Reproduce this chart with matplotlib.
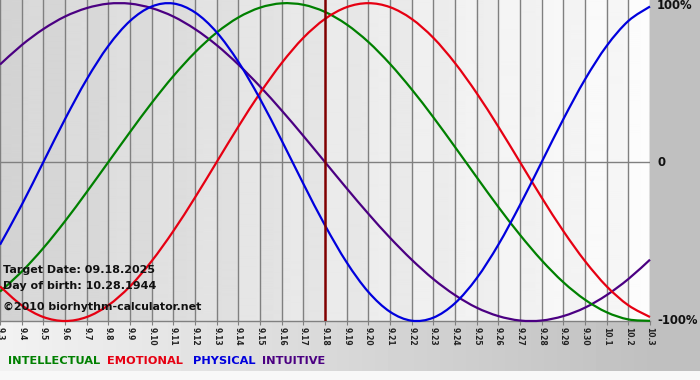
import numpy as np
import matplotlib
matplotlib.use("Agg")
import matplotlib.pyplot as plt
from matplotlib.path import Path
from matplotlib.patches import PathPatch

# ---- data ----
day_labels = ["9.3", "9.4", "9.5", "9.6", "9.7", "9.8", "9.9", "9.10", "9.11", "9.12",
              "9.13", "9.14", "9.15", "9.16", "9.17", "9.18", "9.19", "9.20", "9.21", "9.22",
              "9.23", "9.24", "9.25", "9.26", "9.27", "9.28", "9.29", "9.30", "10.1", "10.2", "10.3"]
physical = [-0.520, -0.270, 0.000, 0.270, 0.520, 0.731, 0.888, 0.979, 0.998, 0.942,
            0.817, 0.631, 0.398, 0.136, -0.136, -0.398, -0.631, -0.817, -0.942, -0.998,
            -0.979, -0.888, -0.731, -0.520, -0.270, 0.000, 0.270, 0.520, 0.731, 0.888, 0.979]
emotional = [-0.782, -0.901, -0.975, -1.000, -0.975, -0.901, -0.782, -0.623, -0.434, -0.223,
             0.000, 0.223, 0.434, 0.623, 0.782, 0.901, 0.975, 1.000, 0.975, 0.901,
             0.782, 0.623, 0.434, 0.223, 0.000, -0.223, -0.434, -0.623, -0.782, -0.901, -0.975]
intellectual = [-0.815, -0.690, -0.541, -0.372, -0.189, 0.000, 0.189, 0.372, 0.541, 0.690,
                0.815, 0.910, 0.972, 0.999, 0.990, 0.945, 0.866, 0.756, 0.618, 0.458,
                0.282, 0.095, -0.095, -0.282, -0.458, -0.618, -0.756, -0.866, -0.945, -0.990, -0.999]
intuitive = [0.614, 0.736, 0.837, 0.916, 0.969, 0.997, 0.997, 0.969, 0.916, 0.837,
             0.736, 0.614, 0.476, 0.325, 0.165, 0.000, -0.165, -0.325, -0.476, -0.614,
             -0.736, -0.837, -0.916, -0.969, -0.997, -0.997, -0.969, -0.916, -0.837, -0.736, -0.614]
target_index = 15  # 9.18
y_ticks = [1.0, 0.0, -1.0]
y_tick_labels = ["100%", "0", "-100%"]
legend_names = ["INTELLECTUAL", "EMOTIONAL", "PHYSICAL", "INTUITIVE"]
info_lines = ["Target Date: 09.18.2025", "Day of birth: 10.28.1944"]
credit = "\u00a92010 biorhythm-calculator.net"

# ---- styles ----
C_INT = "#008000"
C_EMO = "#e60012"
C_PHY = "#0000dd"
C_ITU = "#4b0082"
GRID = "#808080"


def smooth_path(xv, yv):
    """Smooth Bezier path through the given points (Catmull-Rom style)."""
    P = np.column_stack([xv, yv]).astype(float)
    Pe = np.vstack([P[0], P, P[-1]])
    verts = [P[0]]
    codes = [Path.MOVETO]
    for i in range(len(P) - 1):
        p0, p1, p2, p3 = Pe[i], Pe[i + 1], Pe[i + 2], Pe[i + 3]
        c1 = p1 + (p2 - p0) / 6.0
        c2 = p2 - (p3 - p1) / 6.0
        verts += [c1, c2, p2]
        codes += [Path.CURVE4] * 3
    return Path(verts, codes)


W, H = 700, 380
fig = plt.figure(figsize=(W / 100, H / 100), dpi=100)

# outer background
bg = fig.add_axes([0, 0, 1, 1])
bg.set_axis_off()
xs = np.arange(W)
row = np.where(xs < 650, 242 - (242 - 192) * xs / 650.0, 192)
img = np.tile(row, (H, 1))
img[371:, :] = 248
bg.imshow(img, cmap="gray", vmin=0, vmax=255, aspect="auto",
          extent=(0, W, H, 0), interpolation="nearest")
bg.set_xlim(0, W)
bg.set_ylim(H, 0)

plot_h = 321
ax = fig.add_axes([0, (H - plot_h) / H, 650 / W, plot_h / H])
n = len(day_labels)
x = np.arange(n)
ax.set_xlim(0, n - 1)
ax.set_ylim(-1.0, 1.02)

# inner gradient background with subtle day stripes
px = np.linspace(0, n - 1, 650)
grad = 213 + (250 - 213) * px / (n - 1)
stripe = np.where((np.floor(px).astype(int) % 2) == 0, -2.5, 2.5)
grad = np.clip(grad + stripe, 0, 255)
ax.imshow(np.tile(grad, (10, 1)), cmap="gray", vmin=0, vmax=255, aspect="auto",
          extent=(0, n - 1, -1.0, 1.02), zorder=0, interpolation="bilinear")

for xi in x:
    if xi != target_index:
        ax.axvline(xi, color=GRID, lw=1, zorder=1)
ax.axhline(0, color=GRID, lw=1, zorder=1)

lw = 1.6
for series, c in [(intuitive, C_ITU), (intellectual, C_INT), (emotional, C_EMO), (physical, C_PHY)]:
    ax.add_patch(PathPatch(smooth_path(x, series), facecolor="none", edgecolor=c,
                           lw=lw, zorder=3, clip_on=False))
ax.axvline(target_index, color="#800000", lw=1.8, zorder=4)

for s in ["top", "left", "right"]:
    ax.spines[s].set_visible(False)
ax.spines["bottom"].set_color(GRID)
ax.spines["bottom"].set_linewidth(1)

ax.set_xticks(x)
ax.set_xticklabels(day_labels, rotation=-90, fontsize=5.5, fontweight="bold",
                   color="#222222", family="DejaVu Sans")
ax.tick_params(axis="x", length=3, color=GRID, pad=1.0)
ax.set_yticks([])
for yv, lab in zip(y_ticks, y_tick_labels):
    ax.text(1.0 + 7 / 650, yv if yv < 1 else 0.985, lab, transform=ax.get_yaxis_transform(),
            ha="left", va="center", fontsize=8.4, fontweight="bold", color="#111111",
            clip_on=False)

# info text
ty = [1 - 270 / plot_h, 1 - 286 / plot_h]
for t, yy in zip(info_lines, ty):
    ax.text(3 / 650, yy, t, transform=ax.transAxes, ha="left", va="center",
            fontsize=8.0, fontweight="bold", color="#111111", zorder=5)
ax.text(3 / 650, 1 - 307 / plot_h, credit, transform=ax.transAxes, ha="left", va="center",
        fontsize=7.9, fontweight="bold", color="#111111", zorder=5)

# legend row
leg_colors = [C_INT, C_EMO, C_PHY, C_ITU]
leg_x = [8, 107, 193, 262]
for name, c, lx in zip(legend_names, leg_colors, leg_x):
    fig.text(lx / W, 1 - 361 / H, name, ha="left", va="center", fontsize=8.2,
             fontweight="bold", color=c)

fig.savefig("out.png", dpi=100)
